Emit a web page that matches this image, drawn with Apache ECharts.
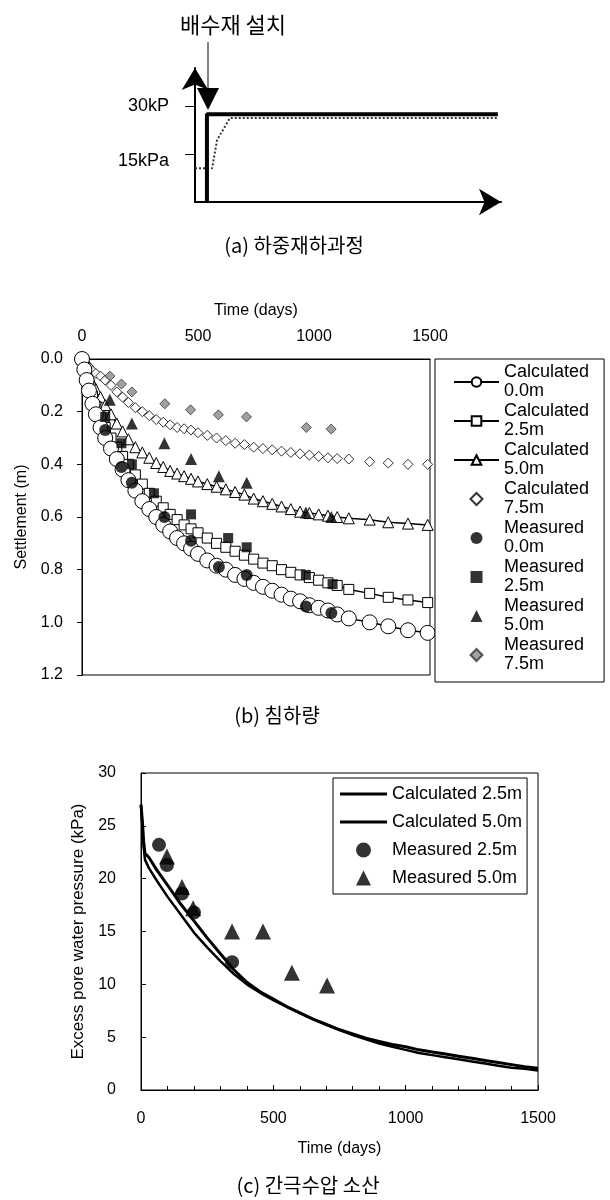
<!DOCTYPE html>
<html>
<head>
<meta charset="utf-8">
<script src="https://cdn.jsdelivr.net/npm/echarts@6/dist/echarts.min.js"></script>
<style>
html, body { margin: 0; padding: 0; background: #fff; }
#chart { width: 610px; height: 1200px; }
</style>
</head>
<body>
<div id="chart"></div>
<script>
var latin = '"Liberation Sans", Arial, sans-serif';
var hangul = '"Noto Sans CJK KR", sans-serif';

//----------------------------------------- (a) load steps -----------------------------------------
var loadTime = [3.9, 3.9, 99];
var loadValue = [0, 27.5, 27.5];
var fieldLoadTime = [0, 5.6, 7.2, 7.5, 11.4, 99];
var fieldLoadValue = [10.6, 10.6, 19.4, 20, 26.3, 26.3];
var loadTicks = [15, 30];
var loadTickLabels = ['15kPa', '30kP'];

//----------------------------------------- (b) settlement -----------------------------------------
var calcDays = [0, 10, 20, 30, 45, 60, 80, 100, 125, 150, 175, 200, 230, 260, 290, 320, 350, 380, 410, 440,
    470, 500, 540, 580, 620, 660, 700, 740, 780, 820, 860, 900, 940, 980, 1020, 1060, 1100, 1150, 1240, 1320, 1405, 1490];
var calc00 = [0, 0.04, 0.08, 0.12, 0.17, 0.21, 0.26, 0.30, 0.34, 0.38, 0.42, 0.46, 0.50, 0.54, 0.57, 0.60, 0.63, 0.655, 0.68, 0.70,
    0.72, 0.74, 0.765, 0.785, 0.80, 0.82, 0.835, 0.85, 0.865, 0.88, 0.895, 0.91, 0.92, 0.935, 0.945, 0.955, 0.97, 0.985, 1.00, 1.015, 1.03, 1.04];
var calc25 = [0, 0.035, 0.07, 0.10, 0.14, 0.18, 0.22, 0.26, 0.30, 0.335, 0.37, 0.40, 0.44, 0.475, 0.51, 0.54, 0.565, 0.59, 0.61, 0.63,
    0.645, 0.66, 0.68, 0.70, 0.715, 0.73, 0.745, 0.76, 0.775, 0.785, 0.80, 0.81, 0.82, 0.83, 0.84, 0.85, 0.86, 0.875, 0.89, 0.905, 0.915, 0.925];
var calc50 = [0, 0.025, 0.045, 0.065, 0.09, 0.115, 0.145, 0.175, 0.21, 0.245, 0.275, 0.305, 0.335, 0.355, 0.375, 0.395, 0.41, 0.425, 0.435, 0.445,
    0.455, 0.465, 0.475, 0.485, 0.495, 0.505, 0.515, 0.53, 0.54, 0.55, 0.56, 0.57, 0.58, 0.585, 0.59, 0.595, 0.60, 0.605, 0.61, 0.62, 0.625, 0.63];
var calc75 = [0, 0.01, 0.02, 0.03, 0.045, 0.055, 0.065, 0.08, 0.10, 0.125, 0.145, 0.165, 0.185, 0.20, 0.215, 0.23, 0.24, 0.25, 0.26, 0.265,
    0.27, 0.28, 0.29, 0.30, 0.31, 0.32, 0.325, 0.335, 0.34, 0.345, 0.35, 0.355, 0.36, 0.365, 0.37, 0.375, 0.378, 0.38, 0.39, 0.395, 0.40, 0.40];

var meas00Days = [100, 170, 215, 355, 470, 590, 710, 965, 1075];
var meas00 = [0.27, 0.41, 0.47, 0.60, 0.69, 0.79, 0.82, 0.94, 0.965];
var meas25Days = [100, 170, 215, 310, 470, 630, 710, 965, 1080];
var meas25 = [0.22, 0.32, 0.40, 0.51, 0.59, 0.68, 0.715, 0.82, 0.855];
var meas50Days = [120, 215, 355, 470, 590, 710, 965, 1075];
var meas50 = [0.155, 0.245, 0.32, 0.38, 0.445, 0.47, 0.583, 0.60];
var meas75Days = [120, 170, 215, 357, 468, 588, 709, 967, 1074];
var meas75 = [0.065, 0.095, 0.125, 0.17, 0.193, 0.212, 0.22, 0.26, 0.266];

//----------------------------------------- (c) pore pressure -----------------------------------------
var pressDays = [0, 5, 10, 15, 30, 60, 100, 150, 200, 250, 300, 350, 400, 450, 500, 550, 600, 650, 700, 750,
    800, 850, 900, 950, 1000, 1050, 1100, 1150, 1200, 1250, 1300, 1350, 1400, 1450, 1500];
var calcP25 = [27, 25.5, 23.5, 22.4, 22.0, 20.8, 19.4, 17.6, 16.0, 14.4, 12.9, 11.4, 10.2, 9.3, 8.6, 7.9, 7.3, 6.7, 6.2, 5.7,
    5.3, 4.9, 4.6, 4.3, 4.1, 3.8, 3.6, 3.4, 3.2, 3.0, 2.8, 2.6, 2.4, 2.2, 2.05];
var calcP50 = [27, 25, 23, 21.8, 21.0, 19.8, 18.3, 16.6, 14.9, 13.5, 12.2, 11.0, 10.0, 9.2, 8.5, 7.9, 7.3, 6.7, 6.2, 5.7,
    5.2, 4.8, 4.4, 4.1, 3.8, 3.5, 3.3, 3.1, 2.9, 2.7, 2.5, 2.3, 2.1, 2.0, 1.85];
var measP25Days = [68, 98, 155, 200, 344];
var measP25 = [23.2, 21.3, 18.6, 16.8, 12.1];
var measP50Days = [98, 155, 197, 344, 461, 570, 703];
var measP50 = [22.1, 19.2, 17.2, 15.0, 15.0, 11.1, 9.9];

function pairs(xs, ys) {
    var out = [];
    for (var i = 0; i < xs.length; i++) {
        out.push([xs[i], ys[i]]);
    }
    return out;
}

// legend icons that keep their shape inside a wide legend box
var iconDiamond = 'path://M0,-1L1,0L0,1L-1,0Z';
var iconSquare = 'path://M0,0L1,0L1,1L0,1Z';
var iconTriangle = 'path://M0,-1L0.9,0.8L-0.9,0.8Z';
var iconBar = 'path://M0,0L100,0L100,6L0,6Z';

var hollow = { color: '#fff', borderColor: '#000', borderWidth: 1 };
var filled = { color: '#000' };
var plain = function (v) { return String(v); };

var chart = echarts.init(document.getElementById('chart'));
var option = {
    backgroundColor: '#fff',
    animation: false,
    textStyle: { fontFamily: latin, color: '#000' },
    grid: [
        { left: 195, top: 68, width: 306, height: 134 },
        { left: 82, top: 359, width: 348, height: 316, show: true, borderColor: '#000', borderWidth: 1 },
        { left: 141, top: 773, width: 397, height: 317, show: true, borderColor: '#000', borderWidth: 1 }
    ],
    xAxis: [
        {
            gridIndex: 0, type: 'value', min: 0, max: 100,
            axisLine: { symbol: ['none', 'arrow'], symbolSize: [20, 22], lineStyle: { color: '#000', width: 2 } },
            axisTick: { show: false }, axisLabel: { show: false }, splitLine: { show: false }
        },
        {
            gridIndex: 1, type: 'value', position: 'top', min: 0, max: 1500, interval: 500,
            name: 'Time (days)', nameLocation: 'middle', nameGap: 40,
            nameTextStyle: { fontSize: 16, color: '#000' },
            axisLine: { lineStyle: { color: '#000' } },
            axisTick: { show: false },
            axisLabel: { fontSize: 16, color: '#000', margin: 14, formatter: plain },
            splitLine: { show: false }
        },
        {
            gridIndex: 2, type: 'value', min: 0, max: 1500, interval: 500,
            name: 'Time (days)', nameLocation: 'middle', nameGap: 51,
            nameTextStyle: { fontSize: 16, color: '#000' },
            axisLine: { lineStyle: { color: '#000' } },
            axisTick: { inside: true, length: 5, lineStyle: { color: '#000' } },
            minorTick: { show: true, splitNumber: 5, length: 4, lineStyle: { color: '#000' } },
            axisLabel: { fontSize: 16, color: '#000', margin: 21, formatter: plain },
            splitLine: { show: false }
        }
    ],
    yAxis: [
        {
            gridIndex: 0, type: 'value', min: 0, max: 42,
            axisLine: { symbol: ['none', 'arrow'], symbolSize: [20, 22], lineStyle: { color: '#000', width: 2 } },
            axisTick: { customValues: loadTicks, length: 10, lineStyle: { color: '#000' } },
            axisLabel: {
                customValues: loadTicks, margin: 26, fontSize: 18, color: '#000',
                formatter: function (v) {
                    var i = loadTicks.indexOf(v);
                    return i === 0 ? '{lo|' + loadTickLabels[i] + '}' : loadTickLabels[i];
                },
                rich: { lo: { fontSize: 18, padding: [14, 0, 0, 0] } }
            },
            splitLine: { show: false }
        },
        {
            gridIndex: 1, type: 'value', inverse: true, min: 0, max: 1.2, interval: 0.2,
            name: 'Settlement (m)', nameLocation: 'middle', nameGap: 44,
            nameTextStyle: { fontSize: 16, color: '#000' },
            axisLine: { lineStyle: { color: '#000' } },
            axisTick: { length: 5, lineStyle: { color: '#000' } },
            axisLabel: { fontSize: 16, color: '#000', margin: 19, formatter: function (v) { return v.toFixed(1); } },
            splitLine: { show: false }
        },
        {
            gridIndex: 2, type: 'value', min: 0, max: 30, interval: 5,
            name: 'Excess pore water pressure (kPa)', nameLocation: 'middle', nameGap: 53,
            nameTextStyle: { fontSize: 17, color: '#000' },
            axisLine: { lineStyle: { color: '#000' } },
            axisTick: { inside: true, length: 5, lineStyle: { color: '#000' } },
            axisLabel: { fontSize: 16, color: '#000', margin: 25 },
            splitLine: { show: false }
        }
    ],
    legend: [
        {
            left: 435, top: 359, orient: 'vertical',
            padding: [4, 15, 8, 18], itemGap: 1, itemWidth: 45, itemHeight: 12,
            borderColor: '#000', borderWidth: 1, backgroundColor: '#fff',
            textStyle: { fontSize: 18, fontFamily: latin, color: '#000', lineHeight: 19 },
            data: [
                'Calculated\n0.0m', 'Calculated\n2.5m', 'Calculated\n5.0m',
                { name: 'Calculated\n7.5m', icon: iconDiamond },
                { name: 'Measured\n0.0m', icon: 'circle' },
                { name: 'Measured\n2.5m', icon: iconSquare },
                { name: 'Measured\n5.0m', icon: iconTriangle },
                { name: 'Measured\n7.5m', icon: iconDiamond }
            ]
        },
        {
            left: 333, top: 778, orient: 'vertical',
            padding: [7, 5, 7, 7], itemGap: 10, itemWidth: 47, itemHeight: 15,
            borderColor: '#000', borderWidth: 1, backgroundColor: '#fff',
            textStyle: { fontSize: 18, fontFamily: latin, color: '#000' },
            data: [
                { name: 'Calculated 2.5m', icon: iconBar },
                { name: 'Calculated 5.0m', icon: iconBar },
                { name: 'Measured 2.5m', icon: 'circle' },
                { name: 'Measured 5.0m', icon: iconTriangle }
            ]
        }
    ],
    graphic: [
        { type: 'text', x: 233, y: 25, style: { text: '배수재 설치', font: '22px ' + hangul, fill: '#000', textAlign: 'center', textVerticalAlign: 'middle' } },
        { type: 'line', shape: { x1: 208, y1: 42, x2: 208, y2: 92 }, style: { stroke: '#000', lineWidth: 1 } },
        { type: 'polygon', shape: { points: [[197, 88], [219, 88], [208, 110]] }, style: { fill: '#000' } },
        { type: 'text', x: 294, y: 245, style: { text: '(a) 하중재하과정', font: '20px ' + hangul, fill: '#000', textAlign: 'center', textVerticalAlign: 'middle' } },
        { type: 'text', x: 277, y: 715, style: { text: '(b) 침하량', font: '20px ' + hangul, fill: '#000', textAlign: 'center', textVerticalAlign: 'middle' } },
        { type: 'text', x: 308, y: 1185, style: { text: '(c) 간극수압 소산', font: '20px ' + hangul, fill: '#000', textAlign: 'center', textVerticalAlign: 'middle' } }
    ],
    series: [
        // (a)
        {
            type: 'line', xAxisIndex: 0, yAxisIndex: 0, data: pairs(fieldLoadTime, fieldLoadValue),
            symbol: 'none', lineStyle: { color: '#333', width: 2, type: 'dotted' }, z: 2
        },
        {
            type: 'line', xAxisIndex: 0, yAxisIndex: 0, data: pairs(loadTime, loadValue),
            symbol: 'none', lineStyle: { color: '#000', width: 4 }, z: 3
        },
        // (b) calculated
        {
            name: 'Calculated\n7.5m', type: 'scatter', xAxisIndex: 1, yAxisIndex: 1, data: pairs(calcDays, calc75),
            symbol: 'diamond', symbolSize: 10, itemStyle: hollow, z: 2
        },
        {
            name: 'Calculated\n5.0m', type: 'line', xAxisIndex: 1, yAxisIndex: 1, data: pairs(calcDays, calc50),
            symbol: 'triangle', symbolSize: 11, showAllSymbol: true, itemStyle: hollow,
            lineStyle: { color: '#000', width: 1.5 }, z: 2
        },
        {
            name: 'Calculated\n2.5m', type: 'line', xAxisIndex: 1, yAxisIndex: 1, data: pairs(calcDays, calc25),
            symbol: 'rect', symbolSize: 10, showAllSymbol: true, itemStyle: hollow,
            lineStyle: { color: '#000', width: 1.5 }, z: 2
        },
        {
            name: 'Calculated\n0.0m', type: 'line', xAxisIndex: 1, yAxisIndex: 1, data: pairs(calcDays, calc00),
            symbol: 'circle', symbolSize: 15, showAllSymbol: true, itemStyle: hollow,
            lineStyle: { color: '#000', width: 1.5 }, z: 2
        },
        // (b) measured
        {
            name: 'Measured\n0.0m', type: 'scatter', xAxisIndex: 1, yAxisIndex: 1, data: pairs(meas00Days, meas00),
            symbol: 'circle', symbolSize: 12, itemStyle: filled, z: 4
        },
        {
            name: 'Measured\n2.5m', type: 'scatter', xAxisIndex: 1, yAxisIndex: 1, data: pairs(meas25Days, meas25),
            symbol: 'rect', symbolSize: 10, itemStyle: filled, z: 4
        },
        {
            name: 'Measured\n5.0m', type: 'scatter', xAxisIndex: 1, yAxisIndex: 1, data: pairs(meas50Days, meas50),
            symbol: 'triangle', symbolSize: 12, itemStyle: filled, z: 4
        },
        {
            name: 'Measured\n7.5m', type: 'scatter', xAxisIndex: 1, yAxisIndex: 1, data: pairs(meas75Days, meas75),
            symbol: 'diamond', symbolSize: 10, itemStyle: { color: '#8a8a8a', borderColor: '#333', borderWidth: 1 }, z: 4
        },
        // (c)
        {
            name: 'Calculated 2.5m', type: 'line', xAxisIndex: 2, yAxisIndex: 2, data: pairs(pressDays, calcP25),
            symbol: 'none', itemStyle: filled, lineStyle: { color: '#000', width: 3 }, z: 2
        },
        {
            name: 'Calculated 5.0m', type: 'line', xAxisIndex: 2, yAxisIndex: 2, data: pairs(pressDays, calcP50),
            symbol: 'none', itemStyle: filled, lineStyle: { color: '#000', width: 2.5 }, z: 2
        },
        {
            name: 'Measured 2.5m', type: 'scatter', xAxisIndex: 2, yAxisIndex: 2, data: pairs(measP25Days, measP25),
            symbol: 'circle', symbolSize: 14, itemStyle: filled, z: 4
        },
        {
            name: 'Measured 5.0m', type: 'scatter', xAxisIndex: 2, yAxisIndex: 2, data: pairs(measP50Days, measP50),
            symbol: 'triangle', symbolSize: 16, itemStyle: filled, z: 4
        }
    ]
};
chart.setOption(option);
</script>
</body>
</html>
